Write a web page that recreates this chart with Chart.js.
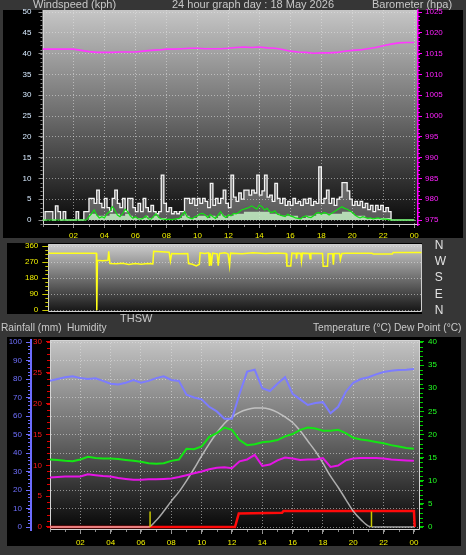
<!DOCTYPE html>
<html><head><meta charset="utf-8"><title>24 hour graph</title>
<script src="https://cdn.jsdelivr.net/npm/chart.js@4.4.1/dist/chart.umd.min.js"></script>
<style>
html,body{margin:0;padding:0;}
body{position:relative;width:466px;height:555px;overflow:hidden;background:#363636;font-family:"Liberation Sans",Arial,sans-serif;}
.panel{position:absolute;background:#000;}
.lbl{position:absolute;color:#c8c8c8;font-size:11px;line-height:13px;white-space:nowrap;}
.sm{font-size:10.2px;}
canvas{position:absolute;left:0;}
</style></head><body>
<div class="panel" style="left:3px;top:10px;width:460px;height:228px"></div>
<div class="panel" style="left:7px;top:243px;width:415px;height:71px"></div>
<div class="panel" style="left:7px;top:337px;width:454px;height:209px"></div>
<canvas id="windChart" width="466" height="240" style="top:0"></canvas>
<canvas id="dirChart" width="466" height="80" style="top:240px"></canvas>
<canvas id="climChart" width="466" height="219" style="top:336px"></canvas>
<div class="lbl" style="left:33px;top:-2px">Windspeed (kph)</div>
<div class="lbl" style="left:172px;top:-2px">24 hour graph day : 18 May 2026</div>
<div class="lbl" style="left:372px;top:-2px">Barometer (hpa)</div>
<div class="lbl" style="left:120px;top:312px">THSW</div>
<div class="lbl sm" style="left:1px;top:321px">Rainfall (mm)</div>
<div class="lbl sm" style="left:67px;top:321px">Humidity</div>
<div class="lbl sm" style="left:313px;top:321px">Temperature (°C)</div>
<div class="lbl sm" style="left:394px;top:321px">Dew Point (°C)</div>
<script>
// ---------------- data ----------------
const hourTickValues = [2,4,6,8,10,12,14,16,18,20,22,24];
const hourTickLabels = ['02','04','06','08','10','12','14','16','18','20','22','00'];
const windTicks = [0,5,10,15,20,25,30,35,40,45,50];
const baroTicks = [975,980,985,990,995,1000,1005,1010,1015,1020,1025];
const dirTicks = [0,90,180,270,360];
const compassLabels = ['N','E','S','W','N'];
const humTicks = [0,10,20,30,40,50,60,70,80,90,100];
const rainTicks = [0,5,10,15,20,25,30];
const tempTicks = [0,5,10,15,20,25,30,35,40];

// wind, 10-minute samples (kph)
const windStepHours = 1/6;
const windGust = [
 0,2,2,2,0,3.4,2,0,2,0,0,0,0,2,0,0,2,2,
 5.2,5.2,4,7.2,4,3,5.2,3,2,5.2,7.2,4,3,5.2,2,5.2,5.2,3,
 2,4,2,5.2,3,2,3.5,2,1.5,2,10.8,4,2,3,1.5,2,1.5,2,
 2,5.2,5.2,4,5.2,3.5,5.2,4,5.2,4.5,3,8.8,3.5,5.2,4,5.2,7.2,4,
 3,10.8,5.5,4.5,6.5,5,7.2,7.2,6,7.2,6.5,10.8,6,7,10.8,5.5,6,4.5,
 8.8,5.2,4,5.2,3.5,4.5,3.5,5.2,4,4.5,3.5,5,4,5.2,3.5,4.5,4,12.8,
 4,5.2,7.2,4,5.2,3.5,5,5.5,9,9,7,5,3.5,4.5,3.5,4.5,3,4,
 2.5,3.5,2,3.5,2.5,3.5,2,3,2,0,0,0,0,0,0,0,0,0,
 0];
const windAvg = [
 0,0,0,0,0,0,0,0,0,0,0,0,0,0,0,0,0,0,
 0.8,1.5,2.4,1.2,0.5,0.8,0.5,1.5,2.0,3.2,2.4,1.2,0.8,1.5,2.6,2.0,1.0,0.4,
 0.8,0.3,0.2,0.4,1.0,0.3,0.2,0.8,1.5,0.6,0.3,0.2,0.1,0.2,0.1,0.2,0.3,0.4,
 1.2,2.0,0.8,0.5,0.3,0.8,1.0,1.5,1.6,1.2,0.6,1.3,0.8,0.4,1.2,2.0,1.0,0.6,
 1.2,1.0,1.6,1.5,1.8,2.4,2.6,2.8,3.0,3.4,3.0,2.6,3.6,3.2,2.4,2.8,2.0,1.8,
 2.2,1.4,1.2,1.0,0.8,1.4,1.0,0.8,0.5,0.4,0.3,0.8,1.0,0.7,0.6,1.0,1.6,1.8,
 1.4,1.8,1.6,1.2,1.6,2.0,2.4,2.8,3.2,2.8,2.6,2.2,1.8,1.2,0.8,0.5,0.8,0.6,
 0.4,0.5,0.3,0.4,0.5,0.3,0.2,0.2,0.1,0,0,0,0,0,0,0,0,0,
 0];
const windMean = [
 0,0,0,0,0,0,0,0,0,0,0,0,0,0,0,0,0,0,
 1.5,1.5,1.5,1,1,1,1,1,1.5,1.5,1.5,1.5,1,1,1.5,1.5,1,0.5,
 0.5,0.5,0.5,0.5,1,0.5,0.5,1,1,0.5,0.5,0.5,0,0,0,0,0.5,0.5,
 1,1.5,1,0.5,0.5,0.5,1,1,1,1,0.5,1,1,0.5,1,1.5,1,0.5,
 1,1,1.5,1.5,1.5,1.5,2,2,2,2,2,2,2,2,2,2,1.5,1.5,
 1.5,1.5,1,1,1,1,1,1,1,0.5,0.5,0.5,1,1,1,1,1.5,1.5,
 1.5,1.5,1.5,1.5,1.5,1.5,1.5,1.5,2,2,2,2,1.5,1,1,1,1,0.5,
 0.5,0.5,0.5,0.5,0.5,0.5,0.5,0.5,0.5,0,0,0,0,0,0,0,0,0,
 0];

// half-hour samples
const halfHourStep = 0.5;
const barometer = [1016.1,1016.1,1016.1,1016.1,1016.1,1015.8,1015.5,1015.3,1015.3,1015.3,
 1015.4,1015.4,1015.4,1015.6,1015.8,1015.9,1016.1,1016.1,1016.2,1016.3,
 1016.3,1016.2,1016.2,1016.2,1016.3,1016.5,1016.6,1016.5,1016.6,1016.4,
 1016.3,1016.0,1015.6,1015.4,1015.3,1015.1,1015.2,1015.2,1015.3,1015.6,
 1015.8,1015.9,1016.2,1016.5,1016.9,1017.3,1017.6,1017.7,1017.7];

// wind direction (hour, degrees)
const dirTimes = [0,3.1,3.13,3.17,3.5,3.85,3.9,3.98,4.4,4.8,5.2,5.6,6.0,6.4,6.75,6.8,7.3,7.8,7.88,7.96,
 8.5,9.0,9.05,9.3,9.55,9.75,9.8,10.1,10.35,10.4,10.45,10.52,10.6,10.9,10.97,11.05,11.4,11.6,11.7,11.76,
 12.5,13.2,14.0,14.7,15.35,15.4,15.65,15.72,16.0,16.02,16.06,16.3,16.34,16.4,16.85,16.9,16.95,17.7,17.74,18.02,
 18.06,18.35,18.4,18.45,18.8,18.85,18.95,19.2,20.9,20.97,22.2,22.26,24.1];
const dirValues = [320,320,0,280,277,280,330,262,260,264,257,262,258,262,260,330,328,325,277,318,
 316,318,262,258,248,258,322,318,322,248,320,250,320,316,250,318,322,316,250,320,
 317,322,318,321,318,248,248,320,318,289,320,318,277,320,318,289,320,318,247,247,
 317,317,256,318,318,283,318,320,320,315,315,324,324];

const humidity = [79,80,81,81.5,80.5,80,80.4,79,77.5,77,
 78,79.5,78,79,80.5,81.5,79.5,79,71.5,70,
 69,65,62.5,58.5,58.5,72,84,85,75,73.5,
 77.5,81,72,69,66,67,67.5,61.5,65,73,
 78,80,81,82.5,83.8,84.5,84.9,85,85.4];
const temperature = [14.6,14.5,14.3,14.2,14.6,15.2,14.9,14.8,14.8,14.7,
 14.5,14.3,14.1,13.8,13.7,13.8,14.3,14.6,16.9,16.8,
 17.4,19.5,20.3,21.5,21.0,18.8,17.7,17.9,18.3,18.5,
 18.8,19.6,20.1,21.0,21.5,21.3,20.8,20.8,21.0,20.3,
 19.3,18.9,18.7,18.4,18.1,17.7,17.4,17.1,16.9];
const dewPoint = [10.7,10.8,10.9,10.9,10.9,11.4,11.2,11.0,10.9,10.6,
 10.4,10.2,10.2,10.3,10.3,10.4,10.5,10.8,11.2,11.6,
 12.0,12.5,12.8,12.9,12.7,14.2,14.6,15.6,13.2,13.5,
 14.4,15.0,14.8,14.5,14.6,14.6,14.9,13.0,13.3,14.4,
 14.8,14.9,14.9,14.9,14.8,14.6,14.5,14.4,14.3];
const solar = [0,0,0,0,0,0,0,0,0,0,0,0,0,0,
 3.5,8.5,14,19,25,31.5,38.5,45,51,56,59.5,62,63.5,64.3,64.4,63.7,62,59.5,56.5,52,46.5,41,34.5,27.5,21.5,15,8.5,4,0.5,
 0,0,0,0,0,0];
const rainTimes = [0,12.2,12.45,15.3,15.4,24.0,24.05];
const rainValues = [0,0,2.2,2.3,2.6,2.6,0];
const sunTimes = [6.6,21.2];
const sunMarkHeight = 2.5;

// ---------------- helpers ----------------
const seq = (vals, step) => vals.map((v,i)=>({x:i*step, y:v}));
const pairs = (ts, vs) => ts.map((t,i)=>({x:t, y:vs[i]}));
const fixedTicks = list => (s => { s.ticks = list.map(v=>({value:v})); });
const plain = v => String(v);
const fixW = w => (s => { s.width = w; s.paddingTop = 0; s.paddingBottom = 0; s.paddingLeft = 0; s.paddingRight = 0; });
const fixH = h => (s => { s.height = h; s.paddingTop = 0; s.paddingBottom = 0; s.paddingLeft = 0; s.paddingRight = 0; });

function plotDecor(cfg){
  return {
    id:'plotDecor',
    beforeDraw(chart){
      const a=chart.chartArea, ctx=chart.ctx;
      const g=ctx.createLinearGradient(0,a.top,0,a.bottom);
      cfg.stops.forEach(([o,c])=>g.addColorStop(o,c));
      ctx.save(); ctx.fillStyle=g;
      ctx.fillRect(a.left,a.top,a.right-a.left,a.bottom-a.top);
      ctx.restore();
    },
    beforeDatasetsDraw(chart){
      const a=chart.chartArea, ctx=chart.ctx;
      ctx.save(); ctx.lineWidth=1;
      const L=Math.round(a.left)+0.5, R=Math.round(a.right)-0.5, T=Math.round(a.top)+0.5, B=Math.round(a.bottom)-0.5;
      ctx.strokeStyle=cfg.frame; ctx.beginPath();
      if(cfg.sides.includes('l')){ctx.moveTo(L,T);ctx.lineTo(L,B);}
      if(cfg.sides.includes('r')){ctx.moveTo(R,T);ctx.lineTo(R,B);}
      if(cfg.sides.includes('t')){ctx.moveTo(L,T);ctx.lineTo(R,T);}
      if(cfg.sides.includes('b')){ctx.moveTo(L,B);ctx.lineTo(R,B);}
      ctx.stroke();
      cfg.minor.forEach(m=>{
        const s=chart.scales[m.id];
        ctx.strokeStyle=m.color; ctx.beginPath();
        for(let k=Math.ceil(s.min/m.step-1e-9); k*m.step<=s.max+1e-9; k++){
          const p=Math.round(s.getPixelForValue(k*m.step))+0.5;
          if(s.isHorizontal()){ctx.moveTo(p,s.top);ctx.lineTo(p,s.top+m.len);}
          else if(s.position==='left'){ctx.moveTo(s.right-m.len,p);ctx.lineTo(s.right,p);}
          else {ctx.moveTo(s.left,p);ctx.lineTo(s.left+m.len,p);}
        }
        ctx.stroke();
      });
      ctx.restore();
    }
  };
}

Chart.defaults.font.family = '"Liberation Sans", Arial, sans-serif';
Chart.defaults.font.size = 8;
const common = {responsive:false, animation:false, events:[],
  plugins:{legend:{display:false}, tooltip:{enabled:false}}};
const gridDots = 'rgba(228,228,228,0.55)';

// ---------------- top: wind + barometer ----------------
new Chart(document.getElementById('windChart'), {
  type:'line',
  data:{datasets:[
    {label:'Barometer (hpa)', data:seq(barometer,halfHourStep), yAxisID:'baro', borderColor:'#ff38ff', borderWidth:1.6, pointRadius:0},
    {label:'Average wind', data:seq(windAvg,windStepHours), yAxisID:'wind', borderColor:'#12e012', borderWidth:1.2, pointRadius:0},
    {label:'Wind speed', data:seq(windMean,windStepHours), yAxisID:'wind', borderWidth:0, borderColor:'rgba(0,0,0,0)', backgroundColor:'rgba(196,240,196,0.85)', fill:'origin', stepped:true, pointRadius:0},
    {label:'Gust', data:seq(windGust,windStepHours), yAxisID:'wind', borderColor:'#f4f4f4', borderWidth:1.3, stepped:true, pointRadius:0, fill:'origin', backgroundColor:'rgba(215,215,215,0.38)'}
  ]},
  options:Object.assign({}, common, {
    layout:{padding:{top:10,left:0,right:0,bottom:0}},
    scales:{
      x:{type:'linear', min:0, max:24.24, afterBuildTicks:fixedTicks(hourTickValues), afterFit:fixH(15),
         ticks:{callback:(v,i)=>hourTickLabels[i], color:'#f2f200', padding:3, maxRotation:0, autoSkip:false},
         grid:{color:gridDots, tickLength:3, tickColor:'#9a9a9a'}, border:{display:false, dash:[1,2]}},
      wind:{position:'left', min:-1.2, max:50.5, afterBuildTicks:fixedTicks(windTicks), afterFit:fixW(42.5),
         ticks:{callback:plain, color:'#d6eaff', padding:7, autoSkip:false}, grid:{color:gridDots, tickLength:4, tickColor:'#8a8a8a'}, border:{display:false, dash:[1,2]}},
      baro:{position:'right', min:973.8, max:1025.5, afterBuildTicks:fixedTicks(baroTicks), afterFit:fixW(48),
         ticks:{callback:plain, color:'#ff22ff', padding:3, autoSkip:false}, grid:{drawOnChartArea:false, tickLength:4, tickColor:'#ff00ff'}, border:{display:true, color:'#ff00ff', width:1.5}}
    }
  }),
  plugins:[plotDecor({stops:[[0,'#c6c6c6'],[0.5,'#6a6a6a'],[1,'#080808']], frame:'#d4d4d4', sides:'lb',
    minor:[{id:'wind',step:1,len:2,color:'#8a8a8a'},{id:'baro',step:1,len:2,color:'#ff00ff'},{id:'x',step:1,len:2,color:'#8a8a8a'}]})]
});

// ---------------- middle: wind direction ----------------
new Chart(document.getElementById('dirChart'), {
  type:'line',
  data:{datasets:[
    {label:'Wind direction', data:pairs(dirTimes,dirValues), yAxisID:'dir', borderColor:'#ffff1a', borderWidth:1.5, pointRadius:0}
  ]},
  options:Object.assign({}, common, {
    layout:{padding:{top:4.3,left:0,right:0,bottom:8}},
    scales:{
      x:{type:'linear', min:0, max:24.1, display:false},
      dir:{position:'left', min:-9.6, max:369.6, afterBuildTicks:fixedTicks(dirTicks), afterFit:fixW(48.3),
         ticks:{callback:plain, color:'#f2f200', padding:4, autoSkip:false}, grid:{color:gridDots, tickLength:6, tickColor:'#c8c800'}, border:{display:false, dash:[1,2]}},
      compass:{position:'right', min:-9.6, max:369.6, afterBuildTicks:fixedTicks(dirTicks), afterFit:fixW(44.3),
         ticks:{callback:(v,i)=>compassLabels[i], color:'#e2e2e2', font:{size:12}, padding:13, autoSkip:false},
         grid:{drawOnChartArea:false, drawTicks:false}, border:{display:false}}
    }
  }),
  plugins:[plotDecor({stops:[[0,'#cccccc'],[1,'#141414']], frame:'#d0d0d0', sides:'lrtb',
    minor:[{id:'dir',step:22.5,len:3,color:'#c8c800'}]})]
});

// ---------------- bottom: rain, humidity, temperature ----------------
new Chart(document.getElementById('climChart'), {
  type:'line',
  data:{datasets:[
    ...sunTimes.map(t=>({label:'Sun', data:[{x:t,y:0},{x:t,y:sunMarkHeight}], yAxisID:'rain', borderColor:'#c8c800', borderWidth:1.5, pointRadius:0})),
    {label:'Humidity', data:seq(humidity,halfHourStep), yAxisID:'hum', borderColor:'#7c7cff', borderWidth:2, pointRadius:0},
    {label:'Temperature (°C)', data:seq(temperature,halfHourStep), yAxisID:'temp', borderColor:'#14e614', borderWidth:2, pointRadius:0},
    {label:'Dew Point (°C)', data:seq(dewPoint,halfHourStep), yAxisID:'temp', borderColor:'#e614e6', borderWidth:2, pointRadius:0},
    {label:'THSW', data:seq(solar,halfHourStep), yAxisID:'solar', borderColor:'rgba(215,215,215,0.75)', borderWidth:1.5, pointRadius:0, cubicInterpolationMode:'monotone'},
    {label:'Rainfall (mm)', data:pairs(rainTimes,rainValues), yAxisID:'rain', borderColor:'#ff0a0a', borderWidth:2.5, pointRadius:0}
  ]},
  options:Object.assign({}, common, {
    layout:{padding:{top:4,left:0,right:0,bottom:0}},
    scales:{
      x:{type:'linear', min:0, max:24.4, afterBuildTicks:fixedTicks(hourTickValues), afterFit:fixH(25),
         ticks:{callback:(v,i)=>hourTickLabels[i], color:'#f2f200', padding:4, maxRotation:0, autoSkip:false},
         grid:{color:gridDots, tickLength:4, tickColor:'#9a9a9a'}, border:{display:false, dash:[1,2]}},
      rain:{position:'left', min:-0.49, max:30.32, afterBuildTicks:fixedTicks(rainTicks), afterFit:fixW(19),
         ticks:{callback:plain, color:'#ff1a1a', padding:4, autoSkip:false}, grid:{drawOnChartArea:false, tickLength:4, tickColor:'#e00000'}, border:{display:false}},
      hum:{position:'left', min:-1.6, max:101.1, afterBuildTicks:fixedTicks(humTicks), afterFit:fixW(31),
         ticks:{callback:plain, color:'#7070ff', padding:4, autoSkip:false}, grid:{color:gridDots, tickLength:5, tickColor:'#6c6cff'}, border:{display:true, color:'#6c6cff', width:2, dash:[1,2]}},
      temp:{position:'right', min:-0.65, max:40.43, afterBuildTicks:fixedTicks(tempTicks), afterFit:fixW(46),
         ticks:{callback:plain, color:'#22ff22', padding:4, autoSkip:false}, grid:{drawOnChartArea:false, tickLength:4, tickColor:'#00d000'}, border:{display:false}},
      solar:{display:false, min:-1.6, max:101.1}
    }
  }),
  plugins:[plotDecor({stops:[[0,'#c4c4c4'],[0.5,'#6a6a6a'],[1,'#060606']], frame:'#d4d4d4', sides:'lrtb',
    minor:[{id:'hum',step:2,len:3,color:'#6c6cff'},{id:'rain',step:1,len:3,color:'#e00000'},{id:'temp',step:1,len:3,color:'#00d000'},{id:'x',step:1,len:2,color:'#8a8a8a'}]})]
});
</script>
</body></html>
